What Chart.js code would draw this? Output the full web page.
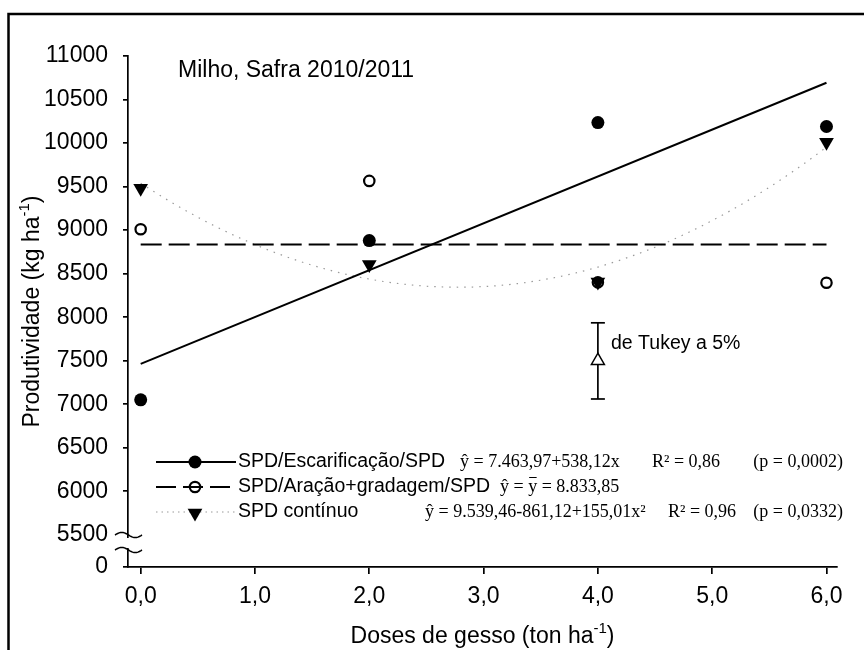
<!DOCTYPE html>
<html lang="pt-BR">
<head>
<meta charset="utf-8">
<title>Milho, Safra 2010/2011</title>
<script src="https://cdn.jsdelivr.net/npm/chart.js@4.4.1/dist/chart.umd.min.js"></script>
<style>
  html, body { margin: 0; padding: 0; background: #fff; }
  #wrap { width: 864px; height: 650px; }
</style>
</head>
<body>
<div id="wrap"><canvas id="chart" width="864" height="650"></canvas></div>
<script>
// Doses de gesso (ton/ha) and yields (kg/ha) per tillage system
const doses = [0, 2, 4, 6];
const escarificacao = [7050, 8880, 10235, 10190];
const aracao = [9010, 9565, 8400, 8395];
const continuo = [9480, 8605, 8405, 10010];

// Fitted models, as printed next to the legend
const linFit = [7463.97, 538.12];
const aracaoMean = 8833.85;
const quadFit = [9539.46, -861.12, 155.01];

// Tukey 5% bar (drawn at dose 4)
const tukeyDose = 4;
const tukeyBar = [7060, 7935];
const tukeyMid = 7500;

// Axis ticks; the y axis is broken below 5500, "0" sits at yBreakBase
const xTicks = [0, 1, 2, 3, 4, 5, 6];
const yTicks = [5500, 6000, 6500, 7000, 7500, 8000, 8500, 9000, 9500, 10000, 10500, 11000];
const yBreakBase = 5130;

const SANS = "'Liberation Sans', Arial, Helvetica, sans-serif";
const SERIF = "'Liberation Serif', 'Times New Roman', serif";

const pts = (ys) => doses.map((x, i) => ({ x, y: ys[i] }));
const linLine = [0, 6].map(x => ({ x, y: linFit[0] + linFit[1] * x }));
const meanLine = [0, 6].map(x => ({ x, y: aracaoMean }));
const quadLine = [];
for (let i = 0; i <= 60; i++) {
    const x = i / 10;
    quadLine.push({ x, y: quadFit[0] + quadFit[1] * x + quadFit[2] * x * x });
}

// draws a run of text pieces (base text + superscripts) one after another
function richText(ctx, parts, x, y, align) {
    let total = 0;
    parts.forEach(p => { ctx.font = p.font; p.w = ctx.measureText(p.t).width; total += p.w; });
    let cx = align === 'center' ? x - total / 2 : (align === 'right' ? x - total : x);
    ctx.textAlign = 'left';
    ctx.textBaseline = 'middle';
    parts.forEach(p => {
        ctx.font = p.font;
        ctx.fillText(p.t, cx, y + (p.dy || 0));
        cx += p.w;
    });
    return cx;
}

function breakMark(ctx, yc) {
    ctx.beginPath();
    for (let i = 0; i <= 20; i++) {
        const t = i / 20;
        const x = 115 + 27 * t;
        const y = yc - 2.6 * Math.sin(2 * Math.PI * t);
        if (i === 0) ctx.moveTo(x, y); else ctx.lineTo(x, y);
    }
    ctx.stroke();
}

const decorations = {
    id: 'decorations',
    beforeDraw(chart) {
        const ctx = chart.ctx;
        ctx.save();
        ctx.fillStyle = '#fff';
        ctx.fillRect(0, 0, chart.width, chart.height);
        ctx.strokeStyle = '#000';
        ctx.lineWidth = 2.5;
        ctx.strokeRect(8.5, 14, 900, 700);
        ctx.restore();
    },
    afterDraw(chart) {
        const ctx = chart.ctx;
        const area = chart.chartArea;
        const { drawPoint } = Chart.helpers;
        ctx.save();
        ctx.fillStyle = '#000';
        ctx.strokeStyle = '#000';

        // axis break on the y axis
        ctx.fillStyle = '#fff';
        ctx.fillRect(124, 538, 8, 10);
        ctx.lineWidth = 1.5;
        breakMark(ctx, 535);
        breakMark(ctx, 550);
        ctx.fillStyle = '#000';

        // axis titles
        const xMid = (area.left + area.right) / 2;
        richText(ctx, [
            { t: 'Doses de gesso (ton ha', font: '23px ' + SANS },
            { t: '-1', font: '15px ' + SANS, dy: -8 },
            { t: ')', font: '23px ' + SANS }
        ], xMid, 637, 'center');

        ctx.save();
        ctx.translate(33, (area.top + area.bottom) / 2);
        ctx.rotate(-Math.PI / 2);
        richText(ctx, [
            { t: 'Produtividade (kg ha', font: '23px ' + SANS },
            { t: '-1', font: '15px ' + SANS, dy: -8 },
            { t: ')', font: '23px ' + SANS }
        ], 0, 0, 'center');
        ctx.restore();

        // panel label and Tukey note
        richText(ctx, [{ t: 'Milho, Safra 2010/2011', font: '23px ' + SANS }], 178, 71, 'left');
        richText(ctx, [{ t: 'de Tukey a 5%', font: '19.5px ' + SANS }], 611, 344, 'left');

        // legend
        const rows = [462, 487, 512];
        const lx0 = 156, lx1 = 236, mx = 195, tx = 238;

        ctx.lineWidth = 2;
        ctx.setLineDash([]);
        ctx.beginPath(); ctx.moveTo(lx0, rows[0]); ctx.lineTo(lx1, rows[0]); ctx.stroke();
        ctx.fillStyle = '#000';
        drawPoint(ctx, { pointStyle: 'circle', radius: 6.5, rotation: 0, borderWidth: 0 }, mx, rows[0]);

        ctx.setLineDash([20, 7]);
        ctx.beginPath(); ctx.moveTo(lx0, rows[1]); ctx.lineTo(lx1, rows[1]); ctx.stroke();
        ctx.setLineDash([]);
        ctx.lineWidth = 2.2;
        ctx.beginPath(); ctx.arc(mx, rows[1], 5.2, 0, Math.PI * 2); ctx.stroke();

        ctx.strokeStyle = '#9a9a9a';
        ctx.lineWidth = 1.2;
        ctx.setLineDash([1.5, 4]);
        ctx.beginPath(); ctx.moveTo(lx0, rows[2]); ctx.lineTo(lx1, rows[2]); ctx.stroke();
        ctx.setLineDash([]);
        ctx.strokeStyle = '#000';
        drawPoint(ctx, { pointStyle: 'triangle', radius: 8.5, rotation: 180, borderWidth: 0 }, mx, rows[2] + 1);

        const lf = '19.5px ' + SANS;
        const ef = '18px ' + SERIF;
        richText(ctx, [{ t: 'SPD/Escarificação/SPD', font: lf }], tx, rows[0], 'left');
        richText(ctx, [{ t: 'SPD/Aração+gradagem/SPD', font: lf }], tx, rows[1], 'left');
        richText(ctx, [{ t: 'SPD contínuo', font: lf }], tx, rows[2], 'left');

        richText(ctx, [{ t: 'ŷ = 7.463,97+538,12x', font: ef }], 460, rows[0], 'left');
        richText(ctx, [{ t: 'R² = 0,86', font: ef }], 652, rows[0], 'left');
        richText(ctx, [{ t: '(p = 0,0002)', font: ef }], 843, rows[0], 'right');

        // ŷ = ȳ : the bar over y is drawn by hand
        let cx = richText(ctx, [{ t: 'ŷ = ', font: ef }], 500, rows[1], 'left');
        ctx.font = ef;
        const yw = ctx.measureText('y').width;
        richText(ctx, [{ t: 'y', font: ef }], cx, rows[1], 'left');
        ctx.lineWidth = 1;
        ctx.beginPath(); ctx.moveTo(cx + 1, rows[1] - 9.5); ctx.lineTo(cx + yw - 0.5, rows[1] - 9.5); ctx.stroke();
        richText(ctx, [{ t: ' = 8.833,85', font: ef }], cx + yw, rows[1], 'left');

        richText(ctx, [{ t: 'ŷ = 9.539,46-861,12+155,01x²', font: ef }], 425, rows[2], 'left');
        richText(ctx, [{ t: 'R² = 0,96', font: ef }], 668, rows[2], 'left');
        richText(ctx, [{ t: '(p = 0,0332)', font: ef }], 843, rows[2], 'right');

        ctx.restore();
    }
};

new Chart(document.getElementById('chart'), {
    type: 'scatter',
    data: {
        datasets: [
            {   // Tukey marker
                data: [{ x: tukeyDose, y: tukeyMid }],
                pointStyle: 'triangle', pointRadius: 7.5,
                pointBackgroundColor: '#fff', pointBorderColor: '#000', pointBorderWidth: 1.5
            },
            {   // Tukey bar with caps
                data: tukeyBar.map(y => ({ x: tukeyDose, y })),
                showLine: true, borderColor: '#000', borderWidth: 1.7,
                pointStyle: 'line', pointRadius: 7, pointBorderColor: '#000', pointBorderWidth: 1.7
            },
            {
                label: 'SPD contínuo',
                data: pts(continuo),
                pointStyle: 'triangle', pointRotation: 180, pointRadius: 8.5,
                pointBackgroundColor: '#000', pointBorderWidth: 0
            },
            {
                label: 'SPD/Escarificação/SPD',
                data: pts(escarificacao),
                pointStyle: 'circle', pointRadius: 6.5,
                pointBackgroundColor: '#000', pointBorderWidth: 0
            },
            {
                label: 'SPD/Aração+gradagem/SPD',
                data: pts(aracao),
                pointStyle: 'circle', pointRadius: 5.2,
                pointBackgroundColor: '#fff', pointBorderColor: '#000', pointBorderWidth: 2.2
            },
            {
                data: linLine, showLine: true, pointRadius: 0,
                borderColor: '#000', borderWidth: 2
            },
            {
                data: meanLine, showLine: true, pointRadius: 0,
                borderColor: '#000', borderWidth: 2, borderDash: [21, 7]
            },
            {
                data: quadLine, showLine: true, pointRadius: 0,
                borderColor: '#9a9a9a', borderWidth: 1.2, borderDash: [1.5, 6]
            }
        ]
    },
    options: {
        responsive: false,
        devicePixelRatio: 1,
        animation: false,
        layout: { padding: { top: 56, right: 27, left: 0, bottom: 0 } },
        plugins: { legend: { display: false }, tooltip: { enabled: false } },
        scales: {
            x: {
                type: 'linear',
                min: -0.111,
                max: 6.092,
                afterBuildTicks: (scale) => { scale.ticks = xTicks.map(v => ({ value: v })); },
                afterFit: (scale) => { scale.height = 83; },
                ticks: {
                    color: '#000', padding: 9,
                    font: { family: SANS, size: 23 },
                    callback: (v) => v.toFixed(1).replace('.', ',')
                },
                grid: { display: true, drawOnChartArea: false, drawTicks: true, tickLength: 7, color: '#000', lineWidth: 1.7 },
                border: { display: true, color: '#000', width: 1.7 }
            },
            y: {
                type: 'linear',
                min: yBreakBase,
                max: 11000,
                afterBuildTicks: (scale) => { scale.ticks = [yBreakBase, ...yTicks].map(v => ({ value: v })); },
                afterFit: (scale) => { scale.width = 128; },
                ticks: {
                    color: '#000', padding: 15,
                    font: { family: SANS, size: 23 },
                    callback: (v) => v === yBreakBase ? '0' : String(v)
                },
                grid: {
                    display: true, drawOnChartArea: false, drawTicks: true, tickLength: 5, lineWidth: 1.7,
                    color: '#000',
                    tickColor: (c) => (c.tick && c.tick.value === 5500) ? 'rgba(0,0,0,0)' : '#000'
                },
                border: { display: true, color: '#000', width: 1.7 }
            }
        }
    },
    plugins: [decorations]
});
</script>
</body>
</html>
